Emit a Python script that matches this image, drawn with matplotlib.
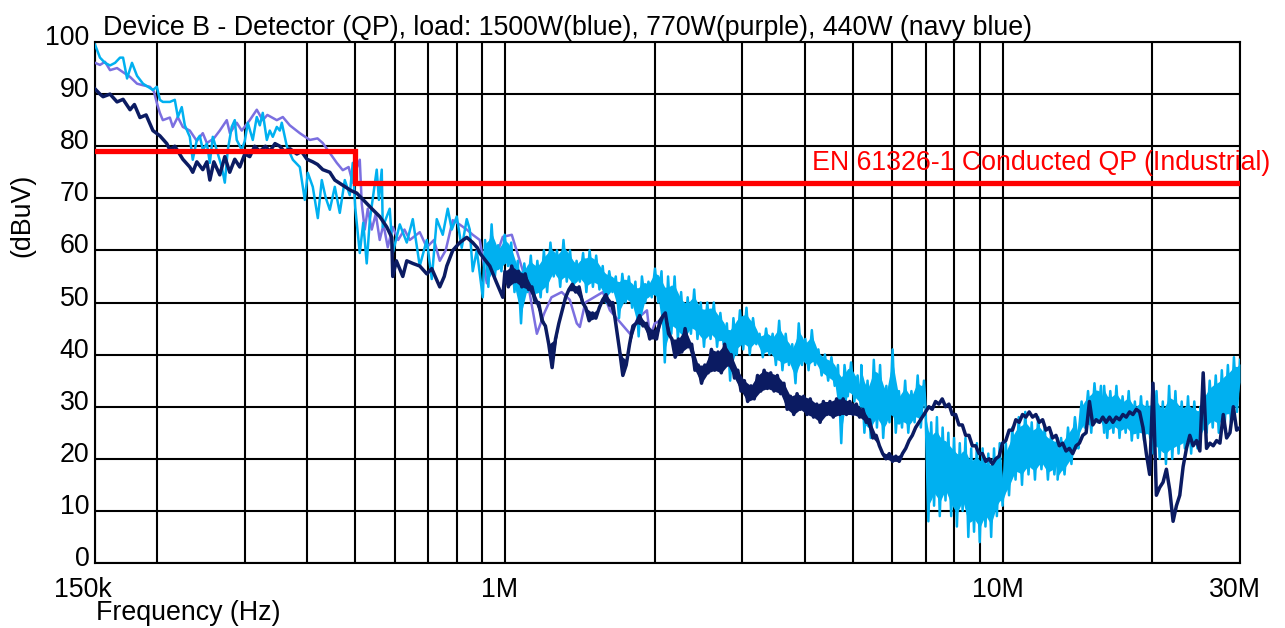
import numpy as np
import matplotlib
matplotlib.use("Agg")
import matplotlib.pyplot as plt
from matplotlib import transforms
from matplotlib.ticker import FixedLocator, LogLocator, NullFormatter

plt.rcParams['font.family'] = ['Liberation Sans', 'DejaVu Sans']

# frequencies in MHz, levels in dBuV

# 1500 W (light blue), resolved part of the trace
blue_pts = [
    (0.150, 99.5), (0.1514, 98.5), (0.1535, 97), (0.1571, 96), (0.1608, 95.5), (0.1646, 96),
    (0.1684, 97), (0.1708, 97), (0.1740, 93), (0.1780, 96), (0.1822, 93.5), (0.1873, 92),
    (0.1916, 91.4), (0.1961, 90.8), (0.1997, 91.4), (0.2025, 88.9), (0.2053, 88.5), (0.2121, 88.5),
    (0.2170, 88.9), (0.2201, 85.6), (0.2241, 87.5), (0.2273, 84), (0.2326, 81.8), (0.2358, 77.4),
    (0.2403, 81.2), (0.2436, 82), (0.2470, 79.3), (0.2517, 80.5), (0.2552, 76.8), (0.2587, 81.8),
    (0.2630, 79.5), (0.2697, 76), (0.2735, 73), (0.2773, 79.3), (0.2824, 83.7), (0.2864, 85),
    (0.2890, 81.2), (0.2958, 79.3), (0.3000, 81), (0.3042, 84.5), (0.3113, 81.2), (0.3171, 85.6),
    (0.3216, 84), (0.3260, 86.4), (0.3322, 81.2), (0.3368, 83), (0.3415, 81.8), (0.3479, 83.7),
    (0.3528, 83), (0.3560, 84.5), (0.3644, 80), (0.3747, 77.4), (0.3870, 76), (0.3960, 69.7),
    (0.4015, 74.9), (0.4109, 72.2), (0.4206, 66.2), (0.4284, 73.5), (0.4360, 70.2), (0.4446, 67.8),
    (0.4550, 72.2), (0.4656, 67.2), (0.4765, 73.5), (0.4876, 70.6), (0.4944, 76.8), (0.5000, 68.3),
    (0.5107, 59.5), (0.5190, 65.3), (0.5274, 57.5), (0.5350, 65.8), (0.5524, 75.5), (0.5580, 69.7),
    (0.5654, 75.5), (0.5680, 64.5), (0.5867, 68), (0.5949, 59.5), (0.6146, 65), (0.6348, 61.5),
    (0.6527, 66), (0.6741, 57), (0.6963, 62), (0.7126, 54.5), (0.7293, 66), (0.7498, 63),
    (0.7674, 68), (0.7817, 64), (0.8000, 66.5), (0.8186, 60.5), (0.8379, 66), (0.8496, 64),
    (0.8614, 56), (0.8777, 60), (0.9024, 51),
]
# 1500 W, dense band: sweep spans and the levels met along them (alternating peak / dip)
blue_spans = [(0.912, 5.19), (5.2, 6.95), (7.0, 10.0), (10.0, 12.9), (12.9, 14.2),
              (14.2, 16.0), (16.0, 19.8), (19.8, 25.0), (25.0, 30.0)]
blue_band = [
    [62, 53, 65, 55, 61, 56, 63, 57, 61.5, 52, 58, 46, 57.5, 52, 59, 50.5, 58, 51, 60, 52,
     61.5, 55, 60, 53, 62, 54, 60, 52.5, 58, 54, 59.5, 52, 60, 53, 59, 52.5, 57, 50, 56, 52,
     55, 47, 55.5, 50, 55, 49, 54, 43.5, 55, 50, 54, 51, 56.5, 50, 56, 38.5, 55, 44, 55, 43,
     52, 42, 51, 44, 52.5, 43, 50, 41.5, 50, 43, 50, 41.5, 48, 42, 46, 35, 47, 40, 48.5, 41,
     49, 40, 47, 42, 44, 39.5, 45, 40, 44, 38, 46.5, 37, 44, 38, 42, 34.5, 46, 38, 43, 37,
     44.7, 38, 41, 36, 40, 35, 39.5, 34, 38, 23, 38, 32, 38.5, 31, 36, 30],
    [38, 25, 35, 24, 39, 26, 38, 24, 34, 27, 41, 25, 33, 26, 35, 25, 33, 27, 36, 26, 35],
    [30, 8, 27, 11, 28, 9, 26, 12, 25, 9, 24, 7, 23, 10, 24, 5, 22, 6, 23, 4, 22, 7, 21, 5, 22, 9, 23, 11],
    [11, 23, 13, 26, 16, 28, 15, 29, 17, 27, 16, 28, 18, 26, 16, 25, 17, 24],
    [16, 24, 17, 26, 19, 28, 22],
    [24, 31, 26, 33, 25, 34.5, 27, 34, 25],
    [34, 24, 33, 25, 34, 24, 32, 25, 33, 23.5, 31, 24, 32, 23.5, 31, 24],
    [30, 21, 33, 20, 31, 19, 34, 20, 33, 21, 31, 22, 32, 21, 31, 22, 30],
    [24, 33, 25, 35, 26, 36, 25, 37, 27, 38, 27, 39.5, 29, 39],
]

# 770 W (purple)
purple_pts = [
    (0.150, 96), (0.1535, 95.6), (0.1571, 96.2), (0.1608, 94.6), (0.1661, 95), (0.1708, 94.2),
    (0.1764, 93.3), (0.1822, 92), (0.1873, 91.7), (0.1934, 91.4), (0.1970, 90.5), (0.1997, 88.3),
    (0.2025, 86.4), (0.2053, 85), (0.2121, 85.5), (0.2150, 83.7), (0.2200, 85.6), (0.2252, 83.7),
    (0.2326, 83), (0.2403, 81), (0.2470, 82.5), (0.2517, 80.6), (0.2600, 81.5), (0.2672, 83),
    (0.2760, 85), (0.2800, 82.5), (0.2890, 84.5), (0.2958, 83), (0.3070, 85), (0.3171, 87),
    (0.3260, 85), (0.3330, 86), (0.3479, 85), (0.3577, 85.6), (0.3695, 84), (0.3870, 82.5),
    (0.4053, 81.2), (0.4200, 81.5), (0.4304, 80.6), (0.4446, 78.7), (0.4592, 76.8), (0.4721, 75.4),
    (0.4850, 76), (0.4944, 73), (0.5000, 75), (0.5107, 77.4), (0.5154, 69), (0.5226, 64),
    (0.5300, 68), (0.5398, 64), (0.5500, 67), (0.5601, 62), (0.5700, 65), (0.5813, 60.6),
    (0.5949, 64.5), (0.6100, 62), (0.6280, 64), (0.6437, 62), (0.6741, 63.5), (0.6963, 60.6),
    (0.7200, 62), (0.7395, 58), (0.7600, 60), (0.7854, 65.8), (0.8100, 65), (0.8379, 64),
    (0.8614, 63), (0.8899, 62), (0.9193, 53.7), (0.9899, 62.6), (1.032, 63), (1.071, 58),
    (1.120, 52), (1.159, 44), (1.200, 48), (1.240, 51), (1.300, 52), (1.350, 50.5),
    (1.394, 46), (1.414, 45.3), (1.450, 50), (1.573, 52), (1.625, 48.5), (1.783, 44),
    (1.850, 47), (1.929, 48.5), (1.956, 43.4), (2.000, 46), (2.100, 47),
]

# 440 W (navy), resolved part
navy_pts = [
    (0.150, 91), (0.1535, 90), (0.1557, 89.5), (0.1608, 90), (0.1661, 88.5), (0.1708, 89),
    (0.1764, 87), (0.1800, 88), (0.1847, 85.5), (0.1900, 86), (0.1961, 83), (0.2025, 82),
    (0.2091, 80.5), (0.2121, 79.3), (0.2170, 80), (0.2252, 77.5), (0.2326, 76), (0.2358, 75),
    (0.2403, 77), (0.2470, 75.5), (0.2517, 77), (0.2552, 73.5), (0.2600, 77), (0.2672, 74.5),
    (0.2735, 78), (0.2798, 75), (0.2864, 77.5), (0.2931, 76), (0.3000, 78.5), (0.3070, 78),
    (0.3140, 80), (0.3216, 79), (0.3300, 80), (0.3368, 79), (0.3450, 80.5), (0.3528, 80),
    (0.3600, 79), (0.3700, 79.5), (0.3817, 78.5), (0.3900, 79), (0.4000, 77.5), (0.4109, 77),
    (0.4200, 76.5), (0.4304, 75.5), (0.4446, 75), (0.4550, 73.5), (0.4721, 72.5), (0.4809, 72),
    (0.4900, 71.5), (0.5036, 71), (0.5154, 70), (0.5274, 69), (0.5400, 68), (0.5601, 66.5),
    (0.5786, 64.5), (0.5922, 62.5), (0.5949, 55), (0.6050, 58), (0.6232, 55), (0.6348, 58),
    (0.6527, 57.5), (0.6741, 57), (0.6963, 55.5), (0.7126, 56.5), (0.7395, 53), (0.7550, 55),
    (0.7639, 57), (0.7854, 60), (0.8112, 61.5), (0.8379, 62.5), (0.8614, 61.5), (0.8800, 60.5),
    (0.8899, 59.5), (0.9321, 57), (0.9600, 54), (0.9899, 51),
]
# 440 W, dense part: sweep spans and levels along them
navy_spans = [(1.0, 2.08), (2.1, 7.0), (7.0, 30.0)]
navy_band = [
    [56, 53, 57, 54, 56, 53, 55.5, 52.5, 53, 50, 50, 46.5, 45.5, 42, 37.5, 43, 46, 48.5, 51, 52.5,
     53.5, 52, 53, 50, 49, 46.5, 48, 47, 49, 50.5, 51.5, 49.5, 50, 45.5, 41, 36, 38, 42, 45.5, 46,
     47.5, 45.5, 46, 43, 44.5, 43, 46.5, 47.5],
    [48, 44, 43, 39.5, 43, 40.5, 45, 41.5, 42, 37, 38, 34.5, 38, 36.5, 41, 37, 40.5, 36.5, 42, 38,
     40, 35.5, 37, 33, 35, 31, 34, 31.5, 36, 33, 37, 33.5, 36.5, 33, 36, 32.5, 34.5, 29.5, 32, 28.5,
     32.5, 29.5, 32, 28.5, 31.5, 28, 30.5, 27, 31, 28.5, 31, 28, 31.5, 28.5, 31.5, 28.5, 31, 28.5, 30.5, 28,
     29.5, 27, 27.5, 24, 24.5, 22.5, 21, 20, 21, 19.5, 20.5, 19.5, 21, 22, 23.5, 24.5, 26, 27, 28, 29],
    [29, 30, 29.5, 31, 30.5, 31.5, 30, 30.5, 28.5, 28.5, 26.5, 26.5, 24.5, 24.5, 22.5, 22.5, 21, 21, 19.5, 20,
     19, 20, 20.5, 23, 23.5, 25.5, 25.5, 27.5, 27, 28.5, 28, 29, 28, 28.5, 27, 27.5, 25.5, 26, 24, 24.5,
     22.5, 23, 21.5, 22, 21, 22.5, 23, 24.5, 25, 31, 26.5, 27.5, 27, 28, 27, 28, 27, 28, 27.5, 28.5,
     28, 29, 28.5, 29.5, 29, 26, 21, 17, 34.5, 13, 14.5, 15.5, 18, 14, 8, 11, 13, 18.5, 22, 24.5,
     22.5, 23.5, 21.5, 36.5, 22, 23, 22.5, 23.5, 23, 28.5, 24, 25, 30, 25.5, 26],
]

# EN 61326-1 class A (industrial) QP limit
limit_f = [0.15, 0.5, 0.5, 30.0]
limit_db = [79, 79, 73, 73]

title = "Device B - Detector (QP), load: 1500W(blue), 770W(purple), 440W (navy blue)"
limit_label = "EN 61326-1 Conducted QP (Industrial)"

c_blue = "#00B0F0"
c_purple = "#7B6FE0"
c_navy = "#0B1B62"
fs = 19.3


def trace(pts, spans=(), band=()):
    f = [p[0] for p in pts]
    v = [p[1] for p in pts]
    for (a, b), vals in zip(spans, band):
        f += list(np.geomspace(a, b, len(vals)))
        v += list(vals)
    return np.array(f) * 1e6, np.array(v)


def fill_band(ax, spans, band, color, z, skip=(), trim=0.0):
    # shade the inside of each dense stretch, between its peak line and dip line
    for k, ((a, b), vals) in enumerate(zip(spans, band)):
        if k in skip:
            continue
        v = np.array(vals, dtype=float)
        p = np.pad(v, 1, mode="edge")
        side = (p[:-2] + p[2:]) / 2
        lo, hi = np.minimum(v, side), np.maximum(v, side)
        d = (hi - lo) * trim
        ax.fill_between(np.geomspace(a, b, len(v)) * 1e6, lo + d, hi - d,
                        color=color, lw=0, zorder=z)


fig = plt.figure(figsize=(12.85, 6.28), dpi=100)
ax = fig.add_axes([95 / 1285, 1 - 563 / 628, 1145 / 1285, 521 / 628])

fx, fy = trace(purple_pts)
ax.plot(fx, fy, color=c_purple, lw=1.8, zorder=3)
fx, fy = trace(blue_pts, blue_spans, blue_band)
fill_band(ax, blue_spans, blue_band, c_blue, 4, trim=0.15)
ax.plot(fx, fy, color=c_blue, lw=1.8, zorder=4)
fx, fy = trace(navy_pts, navy_spans, navy_band)
fill_band(ax, navy_spans, navy_band, c_navy, 5, skip=(2,))
ax.plot(fx, fy, color=c_navy, lw=2.5, zorder=5)
ax.plot(np.array(limit_f) * 1e6, limit_db, color="red", lw=3.8, zorder=6, solid_joinstyle="miter")

ax.set_xscale("log")
ax.set_xlim(0.15e6, 30e6)
ax.set_ylim(0, 100)
ax.xaxis.set_major_locator(FixedLocator([0.15e6, 1e6, 1e7, 3e7]))
ax.set_xticklabels(["150k", "1M", "10M", "30M"])
ax.xaxis.set_minor_locator(LogLocator(base=10, subs=np.arange(2, 10)))
ax.xaxis.set_minor_formatter(NullFormatter())
ax.set_yticks(np.arange(0, 101, 10))
ax.tick_params(which="both", length=0, labelsize=fs)
ax.tick_params(axis="x", pad=10)
ax.tick_params(axis="y", pad=4)
ax.grid(which="both", axis="x", color="black", lw=1.5)
ax.grid(which="major", axis="y", color="black", lw=1.5)
ax.set_axisbelow(True)
for s in ax.spines.values():
    s.set_linewidth(1.5)
    s.set_color("black")

up = transforms.ScaledTranslation(0, 0.07, fig.dpi_scale_trans)
for lab in ax.get_yticklabels():
    lab.set_transform(lab.get_transform() + up)
left = transforms.ScaledTranslation(-0.05, 0, fig.dpi_scale_trans)
for lab in ax.get_xticklabels():
    lab.set_transform(lab.get_transform() + left)
first = ax.get_xticklabels()[0]
first.set_transform(first.get_transform() + transforms.ScaledTranslation(-0.07, 0, fig.dpi_scale_trans))

ax.text(4.14e6, 76.8, limit_label, color="red", fontsize=fs, va="center", ha="left",
        clip_on=False, zorder=7)
fig.text(103 / 1285, 1 - 28 / 628, title, fontsize=fs, va="center", ha="left")
fig.text(96 / 1285, 1 - 613 / 628, "Frequency (Hz)", fontsize=fs, va="center", ha="left")
fig.text(22 / 1285, 1 - 215 / 628, "(dBuV)", fontsize=fs, rotation=90, va="center", ha="center")

fig.savefig("out.png", dpi=100)
